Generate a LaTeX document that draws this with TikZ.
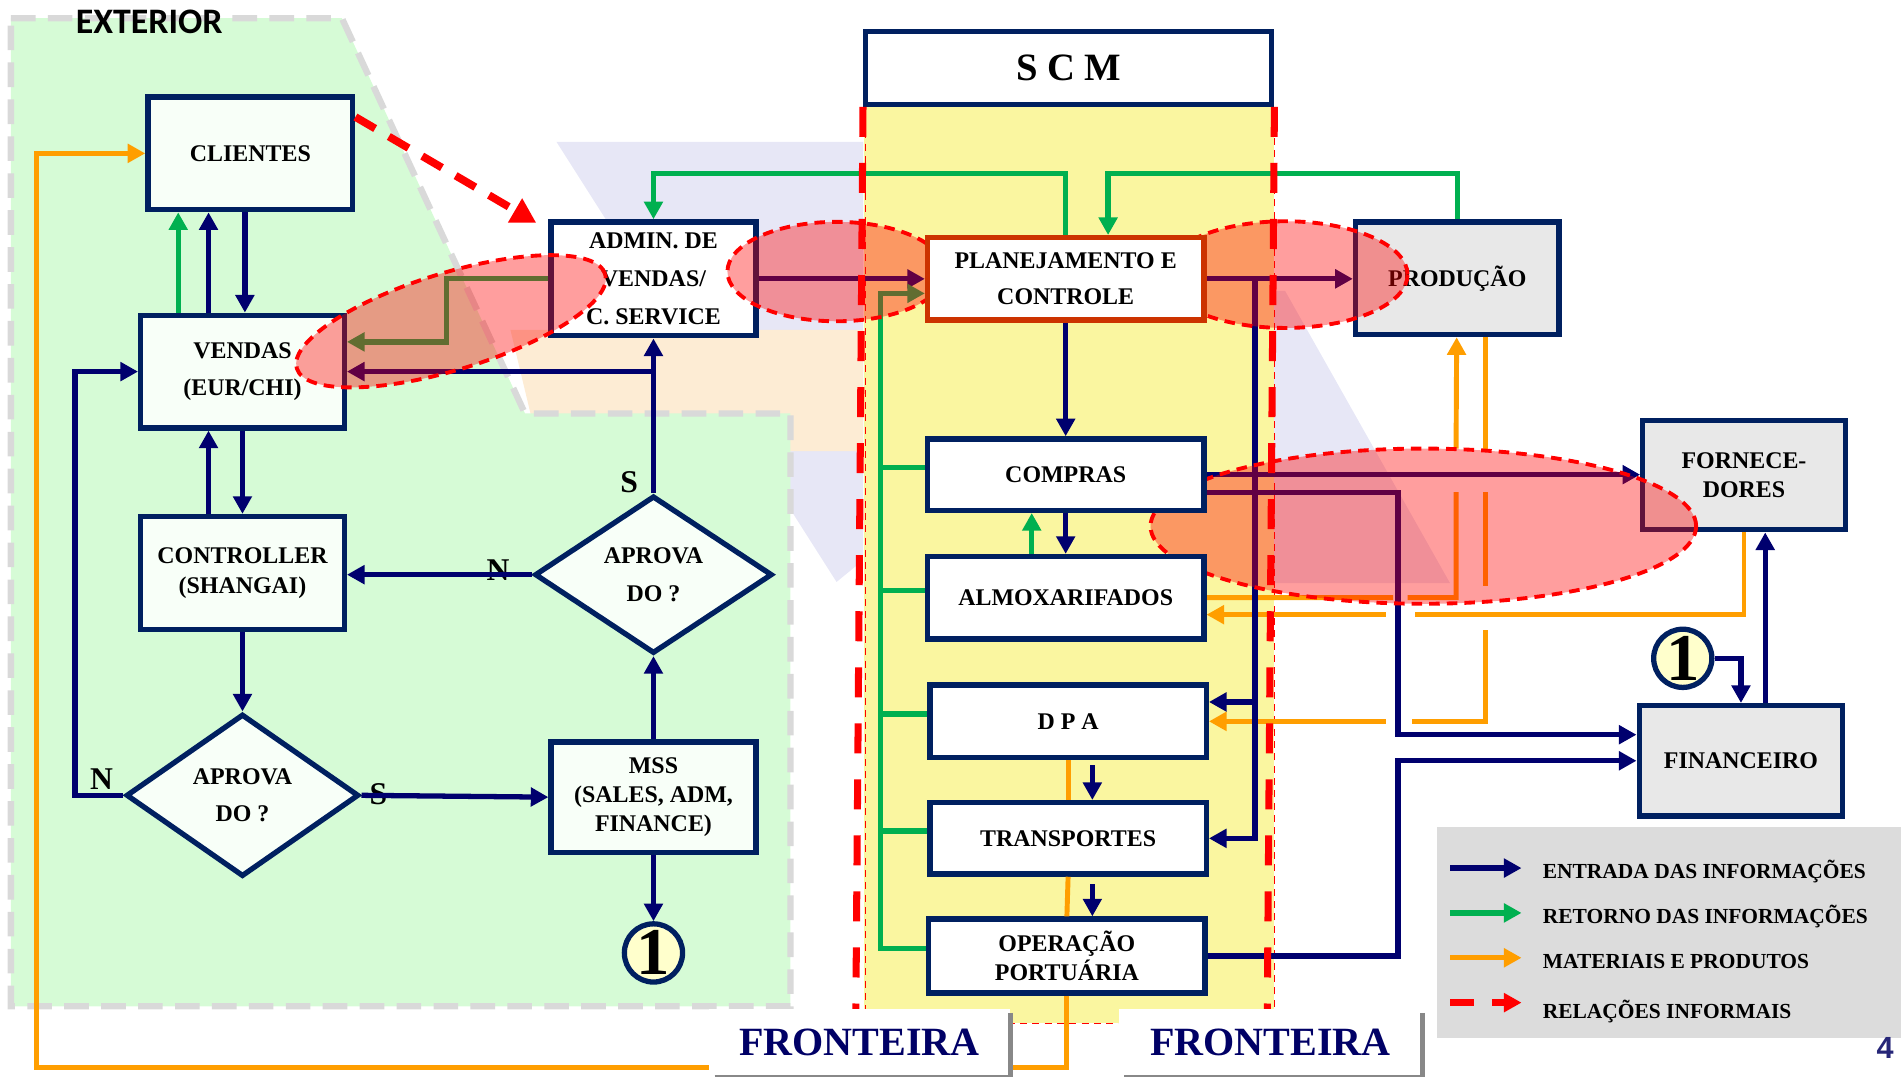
\documentclass[tikz,border=0pt]{standalone}
\usepackage{fontspec}
\setmainfont{Liberation Serif}
\newfontfamily\exfont{Carlito}
\newfontfamily\pgnfont{Liberation Sans}
\usetikzlibrary{arrows.meta,shapes.geometric}
\definecolor{boxc}{RGB}{0,32,96}
\definecolor{infoc}{RGB}{0,0,110}
\definecolor{retc}{RGB}{0,176,80}
\definecolor{matc}{RGB}{255,158,0}
\definecolor{extc}{RGB}{214,251,214}
\definecolor{extb}{RGB}{217,217,217}
\definecolor{scmc}{RGB}{250,246,160}
\definecolor{grayc}{RGB}{232,232,232}
\definecolor{legc}{RGB}{220,220,220}
\definecolor{lavc}{RGB}{231,231,246}
\definecolor{peachc}{RGB}{253,236,212}
\definecolor{frontc}{RGB}{0,0,102}
\definecolor{boxfill}{RGB}{248,255,248}
\definecolor{planc}{RGB}{204,51,0}
\definecolor{shadc}{RGB}{136,136,136}
\definecolor{pgnc}{RGB}{38,38,120}
\definecolor{onec}{RGB}{255,255,204}
\newcommand\pxu{0.01212cm}
\newcommand\bxf[1]{\fontsize{6.8pt}{#1}\selectfont\bfseries}
\pgfdeclarelayer{back}
\pgfdeclarelayer{ell}
\pgfdeclarelayer{front}
\pgfsetlayers{back,main,ell,front}

\begin{document}
\begin{tikzpicture}[x=0.01212cm, y=-0.01212cm, >={Triangle[length=5pt,width=5.2pt]},
    box/.style={draw=boxc, line width=1.5pt, fill=boxfill, align=center, inner sep=0pt},
    wbox/.style={box, fill=white, minimum width=228*\pxu},
    gbox/.style={box, fill=grayc, minimum width=168*\pxu},
    dec/.style={diamond, box, font=\bxf{10.7pt}},
    linkc/.style={circle, draw=boxc, line width=1.5pt, fill=onec, inner sep=0pt,
        minimum size=48*\pxu, font=\fontsize{19pt}{19pt}\selectfont\bfseries},
    yn/.style={inner sep=0pt, font=\fontsize{9pt}{9pt}\selectfont\bfseries},
    info/.style={infoc, line width=1.5pt},
    ret/.style={retc, line width=1.5pt},
    mat/.style={matc, line width=1.4pt},
    informal/.style={red, line width=2.2pt, dash pattern=on 6.5pt off 4.5pt,
        -{Triangle[length=7pt,width=7.5pt]}},
    zone/.style={draw=red, fill=red, fill opacity=0.38, line width=1.1pt,
        dash pattern=on 3pt off 2pt},
    fronteira/.style={red, line width=2pt, dash pattern=on 0.3cm off 0.26cm},
    bordertag/.style={fill=white, text=frontc, inner sep=0pt, minimum height=56*\pxu,
        font=\fontsize{11.4pt}{12pt}\selectfont\bfseries},
    legtxt/.style={anchor=west, inner sep=0pt, font=\fontsize{6.1pt}{7pt}\selectfont\bfseries}]
\useasboundingbox (0,0) rectangle (1568,888);

% fundo: marca d'agua, exterior e coluna do SCM
\begin{pgfonlayer}{back}
\fill[lavc] (459,117) -- (712,117) -- (712,462) -- (690,480) -- cycle;
\fill[lavc] (1051,240) -- (1060,240) -- (1196,481) -- (1051,481) -- cycle;
\fill[peachc] (421,272) -- (712,272) -- (712,372) -- (445,372) -- cycle;
\filldraw[fill=extc, draw=extb, line width=1.8pt, dash pattern=on 7pt off 3.5pt]
    (9,15) -- (282,15) -- (433,341) -- (652,341) -- (652,830) -- (9,830) -- cycle;
\fill[scmc] (713,88) rectangle (1051,844);
\draw[red, line width=0.4pt, dash pattern=on 2pt off 1.5pt]
    (714,88) -- (714,844) -- (1051,844) -- (1051,88);
\end{pgfonlayer}

\node[anchor=west, inner sep=0pt, font=\exfont\bfseries\fontsize{10.2pt}{11pt}\selectfont] (ext) at (62,18) {EXTERIOR};

% exterior
\node[box, font=\bxf{10pt}, minimum width=169*\pxu, minimum height=93*\pxu] (cli) at (206.5,126.5) {CLIENTES};
\node[box, font=\bxf{10.7pt}, minimum width=168*\pxu, minimum height=93*\pxu] (ven) at (200,306.5) {VENDAS\\(EUR/CHI)};
\node[box, fill=white, font=\bxf{10.7pt}, minimum width=169*\pxu, minimum height=94*\pxu] (adm) at (539,230) {ADMIN. DE\\VENDAS/\\C. SERVICE};
\node[box, font=\bxf{8.6pt}, minimum width=168*\pxu, minimum height=93*\pxu] (ctl) at (200,472.5) {CONTROLLER\\(SHANGAI)};
\node[dec, minimum width=192*\pxu, minimum height=134*\pxu] (dl) at (200,656) {APROVA\\DO ?};
\node[dec, minimum width=196*\pxu, minimum height=130*\pxu] (dr) at (539,474) {APROVA\\DO ?};
\node[box, font=\bxf{8.3pt}, minimum width=169*\pxu, minimum height=91*\pxu] (mss) at (539,657.5) {MSS\\(SALES, ADM,\\FINANCE)};
\node[linkc] (c1) at (539,786) {1};

% SCM
\node[box, fill=white, minimum width=335*\pxu, minimum height=60*\pxu, font=\fontsize{11pt}{12pt}\selectfont\bfseries] (scm) at (881.5,56) {S C M};
\begin{pgfonlayer}{front}
\node[wbox, draw=planc, font=\bxf{10.4pt}, minimum height=68*\pxu] (plan) at (879,230) {PLANEJAMENTO E\\CONTROLE};
\node[wbox, font=\bxf{10pt}, minimum height=59*\pxu] (comp) at (879,391.5) {COMPRAS};
\node[wbox, font=\bxf{10pt}, minimum height=68*\pxu] (almox) at (879,493) {ALMOXARIFADOS};
\end{pgfonlayer}
\node[wbox, font=\bxf{10pt}, minimum height=60*\pxu] (dpa) at (881,595) {D P A};
\node[wbox, font=\bxf{10pt}, minimum height=59*\pxu] (trans) at (881,691.5) {TRANSPORTES};
\node[wbox, font=\bxf{6.6pt}, minimum height=61*\pxu] (oper) at (880,788.5) {OPERAÇÃO\\PORTUÁRIA};

% fora do SCM
\node[gbox, font=\bxf{10pt}, minimum height=93*\pxu] (prod) at (1202,229.5) {PRODUÇÃO};
\node[gbox, font=\bxf{8pt}, minimum width=167*\pxu, minimum height=90*\pxu] (forn) at (1438.5,392) {FORNECE-\\DORES};
\node[gbox, font=\bxf{10pt}, minimum height=91*\pxu] (fin) at (1436,627.5) {FINANCEIRO};
\node[linkc] (c2) at (1388,543) {1};

% S / N
\node[yn] (nl) at ([shift={(-18,-13)}]dl.west) {N};
\node[yn] (sl) at ([shift={(14,-1)}]dl.east) {S};
\node[yn] (nr) at ([shift={(-28,-4)}]dr.west) {N};
\node[yn] (sr) at ([shift={(-20,-9)}]dr.north) {S};

% materiais e produtos
\draw[mat] (dpa.south) -- (trans.north);
\draw[mat] (trans.south) -- (oper.north);
\draw[mat,->] (oper.south) -- ++(0,59) -| ([xshift=-90*\pxu]cli.west) -- (cli.west);
\draw[mat,->] (forn.south) |- (1167,507) (1143,507) -- ([yshift=-14*\pxu]almox.east);
\draw[mat,->] (almox.east) -- (1149,493) (1161,493) -| (1201,406) (1201,370) -- ([xshift=-0.5*\pxu]prod.south);
\draw[mat,->] ([xshift=23*\pxu]prod.south) -- (1225,370) (1225,406) -- (1225,483) (1225,520) |- (1165,595) (1143,595) -- (dpa.east);

% entrada das informacoes
\draw[info,->] ([xshift=-28*\pxu]ven.north) -- ([xshift=-28*\pxu]ven.north |- cli.south);
\draw[info,->] ([xshift=2*\pxu]ven.north |- cli.south) -- ([xshift=2*\pxu]ven.north);
\draw[info,->] ([xshift=-28*\pxu]ctl.north) -- ([xshift=-28*\pxu]ctl.north |- ven.south);
\draw[info,->] (ven.south) -- (ctl.north);
\draw[info,->] (ctl.south) -- (dl.north);
\draw[info,->] (dl.west) -| ([xshift=-52*\pxu]ven.west) -- (ven.west);
\draw[info,->] (dl.east) -- (mss.west);
\draw[info,->] (mss.north) -- (dr.south);
\draw[info,->] (mss.south) -- (c1.north);
\draw[info,->] (dr.west) -- (dr.west -| ctl.east);
\draw[info,->] (dr.north) -- (adm.south);
\draw[info,->] (dr.north |- ven.east) -- (ven.east);
\draw[info,->] (adm.east) -- (plan.west);
\draw[info,->] (plan.east) -- (plan.east -| prod.west);
\draw[info,->] ([xshift=40*\pxu]plan.east) |- ([yshift=16*\pxu]dpa.east);
\draw[info,->] ([xshift=40*\pxu]plan.east) |- (trans.east);
\draw[info,->] (plan.south) -- (comp.north);
\draw[info,->] (comp.south) -- (almox.north);
\draw[info,->] ([shift={(20,4)}]dpa.south) -- ([xshift=20*\pxu]dpa.south |- trans.north);
\draw[info,->] ([shift={(20,6)}]trans.south) -- ([xshift=20*\pxu]trans.south |- oper.north);
\coordinate (fx) at (1153,0);
\coordinate (fin1) at ([yshift=21.5*\pxu]fin.west);
\draw[info,->] (comp.east) -- (comp.east -| forn.west);
\draw[info,->] ([yshift=-15*\pxu]comp.east) -| (fx |- fin1) -- (fin1);
\draw[info,->] (oper.east) -| (fx |- fin.west) -- (fin.west);
\draw[info,->] (c2.east) -| (fin.north);
\draw[info,->] ([xshift=20*\pxu]fin.north) -- ([xshift=20*\pxu]fin.north |- forn.south);

% retorno das informacoes
\draw[ret,->] ([xshift=-53*\pxu]ven.north) -- ([xshift=-53*\pxu]ven.north |- cli.south);
\draw[ret,->] (adm.west) -- ([xshift=-84*\pxu]adm.west) |- ([yshift=24.5*\pxu]ven.east);
\draw[ret,->] (plan.north) -- ++(0,-51) -| (adm.north);
\draw[ret,->] (prod.north) -- ++(0,-38) -| ([xshift=35*\pxu]plan.north);
\coordinate (bus) at (726,0);
\draw[ret,->] ([yshift=6*\pxu]oper.west) -- ([yshift=6*\pxu]oper.west -| bus) |- ([yshift=-12*\pxu]plan.west);
\foreach \n in {comp,almox,dpa,trans}
{
    \draw[ret] ([yshift=6*\pxu]\n.west) -- ([yshift=6*\pxu]\n.west -| bus);
}
\draw[ret,->] ([xshift=-28*\pxu]almox.north) -- ([xshift=-28*\pxu]almox.north |- comp.south);

% relacoes informais
\draw[informal] ([yshift=30*\pxu]cli.east) -- ([shift={(-10,3)}]adm.north west);
\begin{pgfonlayer}{ell}
\draw[zone, rotate around={17:(372,265)}] (372,265) ellipse [x radius=133*\pxu, y radius=40*\pxu];
\draw[zone] (690,224) ellipse [x radius=90*\pxu, y radius=41*\pxu];
\draw[zone] (1060,226.5) ellipse [x radius=101*\pxu, y radius=44*\pxu];
\draw[zone] (1174,434) ellipse [x radius=225*\pxu, y radius=64*\pxu];
\end{pgfonlayer}

% fronteira
\begin{pgfonlayer}{front}
\draw[fronteira] (scm.south west) -- ++(-6,758);
\draw[fronteira] (scm.south east) -- ++(-6,758);
\node[bordertag, minimum width=248*\pxu] (fr1) at (709,860) {FRONTEIRA};
\node[bordertag, minimum width=250*\pxu] (fr2) at (1048,860) {FRONTEIRA};
\foreach \f in {fr1,fr2}
{
    \draw[shadc, line width=1.4pt] ([yshift=-4*\pxu]\f.north east) -- (\f.south east);
    \draw[shadc, line width=0.8pt] ([shift={(5,-1)}]\f.south west) -- ([yshift=1*\pxu]\f.south east);
}
\end{pgfonlayer}

% legenda
\fill[legc] (1185,682) rectangle (1568,856);
\node[legtxt] (lg1) at (1272,719) {ENTRADA DAS INFORMAÇÕES};
\node[legtxt] (lg2) at (1272,756) {RETORNO DAS INFORMAÇÕES};
\node[legtxt] (lg3) at (1272,793) {MATERIAIS E PRODUTOS};
\node[legtxt] (lg4) at (1272,834) {RELAÇÕES INFORMAIS};
\draw[info,->] ([shift={(-76,-3)}]lg1.west) -- ([shift={(-17,-3)}]lg1.west);
\draw[ret,->] ([shift={(-76,-3)}]lg2.west) -- ([shift={(-17,-3)}]lg2.west);
\draw[mat,->] ([shift={(-76,-3)}]lg3.west) -- ([shift={(-17,-3)}]lg3.west);
\draw[red, line width=1.8pt, dash pattern=on 0.24cm off 0.18cm, -{Triangle[length=5pt,width=5.2pt]}]
    ([shift={(-76,-7)}]lg4.west) -- ([shift={(-17,-7)}]lg4.west);
\node[inner sep=0pt, text=pgnc, font=\pgnfont\bfseries\fontsize{8.7pt}{9pt}\selectfont] (pg) at (1555,864) {4};
\end{tikzpicture}
\end{document}
